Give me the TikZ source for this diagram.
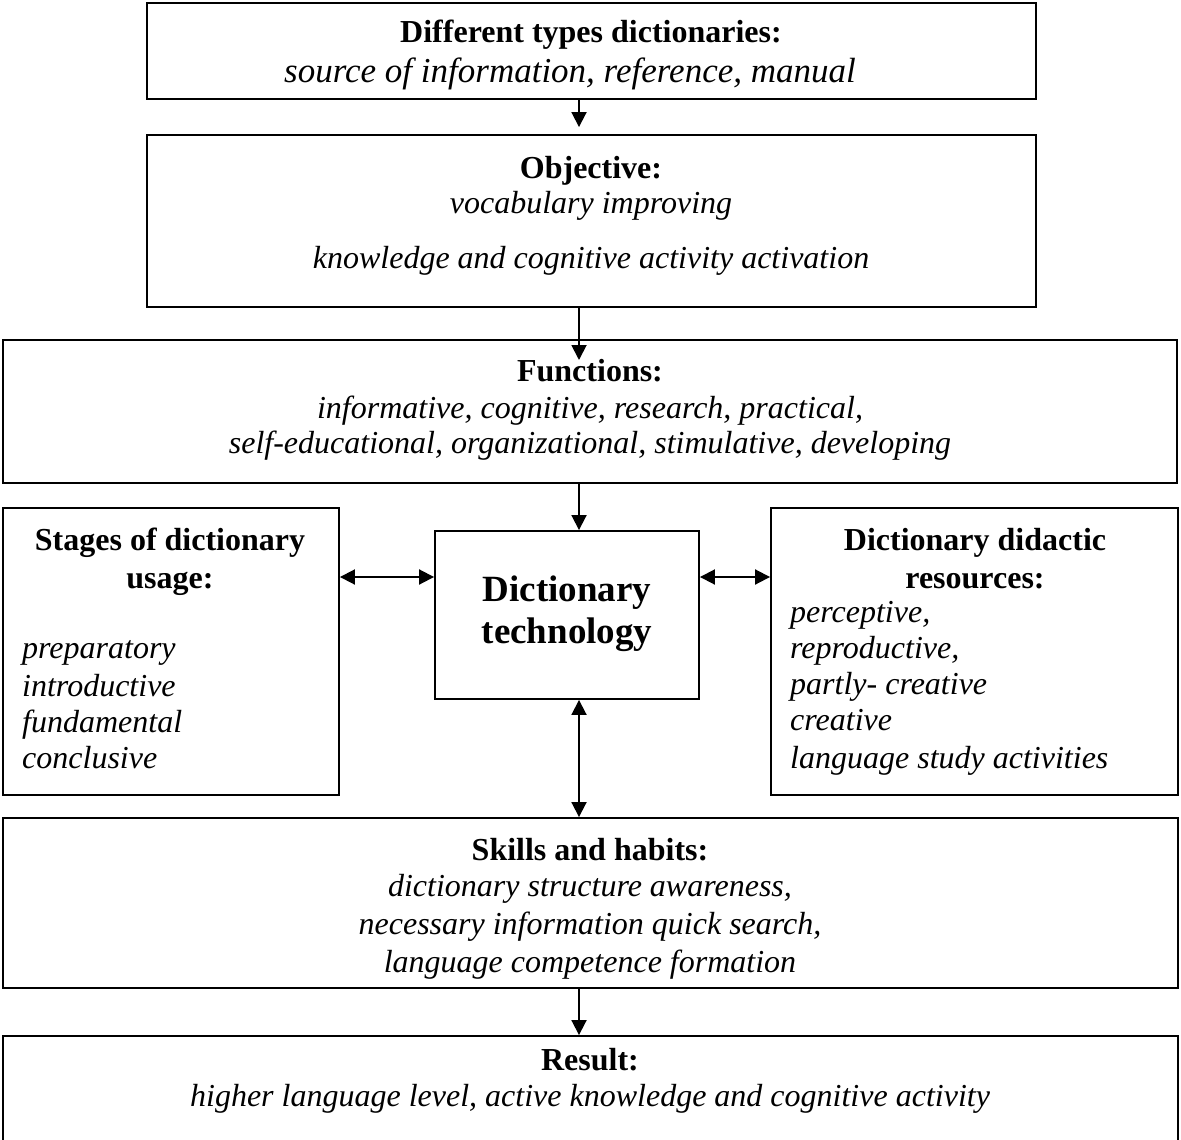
\documentclass[tikz,border=0pt]{standalone}
\usepackage{fontspec}
\setmainfont{Liberation Serif}
\usetikzlibrary{arrows.meta}
\begin{document}
\begin{tikzpicture}[x=1pt,y=1pt,
  box/.style={draw, line width=1.9pt, inner sep=0pt},
  ln/.style={inner sep=0pt, yshift=-3pt, text height=22pt, text depth=7pt, font=\fontsize{32}{37}\selectfont},
  hd/.style={ln, font=\fontsize{32}{37}\selectfont\bfseries},
  it/.style={ln, font=\fontsize{32}{37}\selectfont\itshape},
  itl/.style={it, anchor=west},
  big/.style={inner sep=0pt, yshift=-2pt, text height=26pt, text depth=8pt, font=\fontsize{37}{42}\selectfont\bfseries},
  arr/.style={line width=1.9pt, -{Triangle[length=15pt,width=15pt]}},
  darr/.style={line width=1.9pt, {Triangle[length=15pt,width=15pt]}-{Triangle[length=15pt,width=15pt]}}
]
\useasboundingbox (0,0) rectangle (1181,-1140);
\clip (0,0) rectangle (1181,-1140);
\fill[white] (0,0) rectangle (1181,-1140);
\coordinate (ax) at (579,0);
\coordinate (ay) at (0,-577);
\coordinate (fin) at (579,-360);

% boxes
\node[box, minimum width=889pt, minimum height=96pt] (types) at (591.5,-51) {};
\node[box, minimum width=889pt, minimum height=172pt] (obj) at (591.5,-221) {};
\node[box, minimum width=1174pt, minimum height=143pt] (func) at (590,-411.5) {};
\node[box, minimum width=336pt, minimum height=287pt] (stages) at (171,-651.5) {};
\node[box, minimum width=264pt, minimum height=168pt] (tech) at (567,-615) {};
\node[box, minimum width=407pt, minimum height=287pt] (res) at (974.5,-651.5) {};
\node[box, minimum width=1175pt, minimum height=170pt] (skills) at (590.5,-903) {};
\node[box, minimum width=1175pt, minimum height=144pt] (result) at (590.5,-1108) {};

% texts
\node[hd] (t1a) at (591,-32) {Different types dictionaries:};
\node[it, font=\fontsize{35}{40}\selectfont\itshape] (t1b) at (570,-72) {source of information, reference, manual};

\node[hd] (t2a) at (591,-168) {Objective:};
\node[it] (t2b) at (591,-203) {vocabulary improving};
\node[it] (t2c) at (591,-258) {knowledge and cognitive activity activation};

\node[hd] (t3a) at (590,-371) {Functions:};
\node[it] (t3b) at (590,-408) {informative, cognitive, research, practical,};
\node[it] (t3c) at (590,-443) {self-educational, organizational, stimulative, developing};

\node[hd] (t4a) at (170,-540) {Stages of dictionary};
\node[hd] (t4b) at (170,-578) {usage:};
\node[itl] (t4c) at (22,-648) {preparatory};
\node[itl] (t4d) at (22,-686) {introductive};
\node[itl] (t4e) at (22,-722) {fundamental};
\node[itl] (t4f) at (22,-758) {conclusive};

\node[big] (t5a) at (567,-590) {Dictionary};
\node[big] (t5b) at (567,-632) {technology};

\node[hd] (t6a) at (975,-540) {Dictionary didactic};
\node[hd] (t6b) at (975,-578) {resources:};
\node[itl] (t6c) at (790,-612) {perceptive,};
\node[itl] (t6d) at (790,-648) {reproductive,};
\node[itl] (t6e) at (790,-684) {partly- creative};
\node[itl] (t6f) at (790,-720) {creative};
\node[itl] (t6g) at (790,-758) {language study activities};

\node[hd] (t7a) at (590,-850) {Skills and habits:};
\node[it] (t7b) at (590,-886) {dictionary structure awareness,};
\node[it] (t7c) at (590,-924) {necessary information quick search,};
\node[it] (t7d) at (590,-962) {language competence formation};

\node[hd] (t8a) at (590,-1060) {Result:};
\node[it] (t8b) at (590,-1096) {higher language level, active knowledge and cognitive activity};

% connectors
\draw[arr, shorten >=7pt] (types.south -| ax) -- (obj.north -| ax);
\draw[arr] (obj.south -| ax) -- (fin);
\draw[arr] (func.south -| ax) -- (tech.north -| ax);
\draw[darr] (stages.east |- ay) -- (tech.west |- ay);
\draw[darr] (tech.east |- ay) -- (res.west |- ay);
\draw[darr] (tech.south -| ax) -- (skills.north -| ax);
\draw[arr] (skills.south -| ax) -- (result.north -| ax);
\end{tikzpicture}
\end{document}
